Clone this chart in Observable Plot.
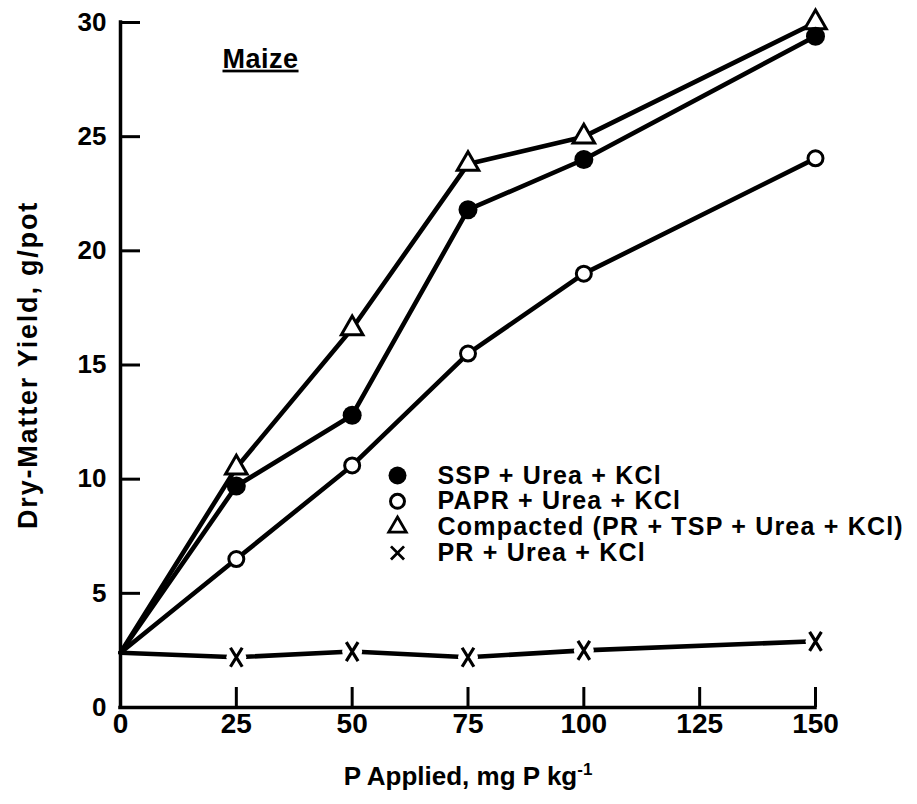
<!DOCTYPE html>
<html>
<head>
<meta charset="utf-8">
<script src="https://cdn.jsdelivr.net/npm/d3@7"></script>
<script src="https://cdn.jsdelivr.net/npm/@observablehq/plot@0.6"></script>
<style>
  body { margin: 0; background: #fff; }
  #chart svg { display: block; }
</style>
</head>
<body>
<div id="chart"></div>
<script>
// ---- data ----
const pApplied = [0, 25, 50, 75, 100, 150];
const sspYield = [2.4, 9.7, 12.8, 21.8, 24.0, 29.4];
const paprYield = [2.4, 6.5, 10.6, 15.5, 19.0, 24.05];
const compactedYield = [2.4, 10.5, 16.6, 23.8, 25.0, 30.0];
const prYield = [2.4, 2.2, 2.45, 2.2, 2.5, 2.9];
const seriesNames = [
  "SSP + Urea + KCl",
  "PAPR + Urea + KCl",
  "Compacted (PR + TSP + Urea + KCl)",
  "PR + Urea + KCl"
];
const xTicks = [0, 25, 50, 75, 100, 125, 150];
const yTicks = [0, 5, 10, 15, 20, 25, 30];
const xLabel = "P Applied, mg P kg";
const xLabelSup = "-1";
const yLabel = "Dry-Matter Yield, g/pot";
const panelTitle = "Maize";

// ---- layout ----
const W = 917, H = 804;
const mL = 120, mR = 102, mT = 22, mB = 97;
const frameW = W - mL - mR, frameH = H - mT - mB;
const tickLen = 20;
const FONT = "'Liberation Sans', Arial, Helvetica, sans-serif";

const seriesValues = [sspYield, paprYield, compactedYield, prYield];
const rows = seriesNames.flatMap((s, i) =>
  pApplied.map((p, j) => ({ series: s, idx: i, p, y: seriesValues[i][j] }))
);
const markerRows = rows.filter(d => d.p > 0);
const bySeries = i => markerRows.filter(d => d.idx === i);

// narrow "x" marker
const xSymbol = {
  draw(ctx, size) {
    const r = Math.sqrt(size / Math.PI);
    const w = r * 0.62;
    ctx.moveTo(-w, -r); ctx.lineTo(w, r);
    ctx.moveTo(w, -r); ctx.lineTo(-w, r);
  }
};

// legend placement (data units, derived from the frame)
const pxPerY = frameH / 30, pxPerX = frameW / 150;
const legendMarkX = (397 - mL) / pxPerX;
const legendTextX = (437 - mL) / pxPerX;
const legendTopY = (H - mB - 475) / pxPerY;
const legendStep = 25.8 / pxPerY;
const legendRows = seriesNames.map((s, i) => ({ series: s, i, lx: legendMarkX, tx: legendTextX, ly: legendTopY - i * legendStep }));

const chart = Plot.plot({
  width: W, height: H,
  marginLeft: mL, marginRight: mR, marginTop: mT, marginBottom: mB,
  style: { fontFamily: FONT, fontSize: "25px", fontWeight: "bold", background: "#fff", color: "#000", overflow: "visible" },
  x: { domain: [0, 150] },
  y: { domain: [0, 30] },
  marks: [
    // inward ticks
    Plot.ruleX(xTicks.filter(d => d > 0), { x: d => d, insetTop: frameH - tickLen, stroke: "#000", strokeWidth: 3 }),
    Plot.ruleY(yTicks.filter(d => d > 0), { y: d => d, insetRight: frameW - tickLen, stroke: "#000", strokeWidth: 3 }),
    // series lines
    Plot.line(rows, { x: "p", y: "y", z: "series", stroke: "#000", strokeWidth: 4.6, strokeLinejoin: "round", strokeLinecap: "round" }),
    // PR markers (x) with white gap
    Plot.dot(bySeries(3), { x: "p", y: "y", r: 10, fill: "#fff", stroke: "none" }),
    Plot.dot(bySeries(3), { x: "p", y: "y", r: 9.5, symbol: xSymbol, fill: "none", stroke: "#000", strokeWidth: 3.2 }),
    // Compacted triangles
    Plot.dot(bySeries(2), { x: "p", y: "y", r: 8, symbol: "triangle", fill: "#fff", stroke: "#000", strokeWidth: 3 }),
    // PAPR open circles
    Plot.dot(bySeries(1), { x: "p", y: "y", r: 7.5, fill: "#fff", stroke: "#000", strokeWidth: 3 }),
    // SSP filled circles
    Plot.dot(bySeries(0), { x: "p", y: "y", r: 9.5, fill: "#000", stroke: "none" }),
    // axis lines
    Plot.ruleX([0], { stroke: "#000", strokeWidth: 3.5, strokeLinecap: "square" }),
    Plot.ruleY([0], { stroke: "#000", strokeWidth: 3.5, strokeLinecap: "square" }),
    Plot.axisX(xTicks, { tickSize: 0, tickPadding: 6, label: null, fontSize: 28, fontWeight: "bold" }),
    Plot.axisY(yTicks, { tickSize: 0, tickPadding: 14, label: null, fontSize: 26, fontWeight: "bold" }),
    // legend
    Plot.dot(legendRows.filter(d => d.i === 0), { x: "lx", y: "ly", r: 9, fill: "#000" }),
    Plot.dot(legendRows.filter(d => d.i === 1), { x: "lx", y: "ly", r: 7, fill: "#fff", stroke: "#000", strokeWidth: 3 }),
    Plot.dot(legendRows.filter(d => d.i === 2), { x: "lx", y: "ly", r: 6.5, symbol: "triangle", fill: "#fff", stroke: "#000", strokeWidth: 2.8 }),
    Plot.dot(legendRows.filter(d => d.i === 3), { x: "lx", y: "ly", r: 6, symbol: "times", fill: "none", stroke: "#000", strokeWidth: 2.8 }),
    Plot.text(legendRows, { x: "tx", y: "ly", text: "series", textAnchor: "start", fontSize: 25, fontWeight: "bold", fill: "#000", className: "legend-text" }),
    // panel title
    Plot.text([panelTitle], { frameAnchor: "top-left", dx: 102, dy: 26, text: d => d, textAnchor: "start", fontSize: 27, fontWeight: "bold", fill: "#000" }),
    // axis labels
    Plot.text([xLabel], { frameAnchor: "bottom", dy: 77, text: d => d, fontSize: 26, fontWeight: "bold", fill: "#000" }),
    Plot.text([yLabel], { frameAnchor: "left", dx: -92, rotate: -90, textAnchor: "middle", text: d => d, fontSize: 27, fontWeight: "bold", fill: "#000", className: "y-label" })
  ]
});

const svg = d3.select(chart);
// letter spacing to match the wide typeface of the reference
svg.selectAll(".legend-text text").style("letter-spacing", "1.2px");
svg.selectAll(".y-label text").style("letter-spacing", "1.8px");
// underline the panel title and add superscript to x label
svg.selectAll("text").filter(function () { return this.textContent === panelTitle; })
  .style("text-decoration", "underline").style("letter-spacing", "0.5px");
svg.selectAll("text").filter(function () { return this.textContent === xLabel; })
  .each(function () {
    d3.select(this).append("tspan").attr("dy", "-0.55em").attr("font-size", 17).text(xLabelSup);
  });

document.getElementById("chart").appendChild(chart);
</script>
</body>
</html>
